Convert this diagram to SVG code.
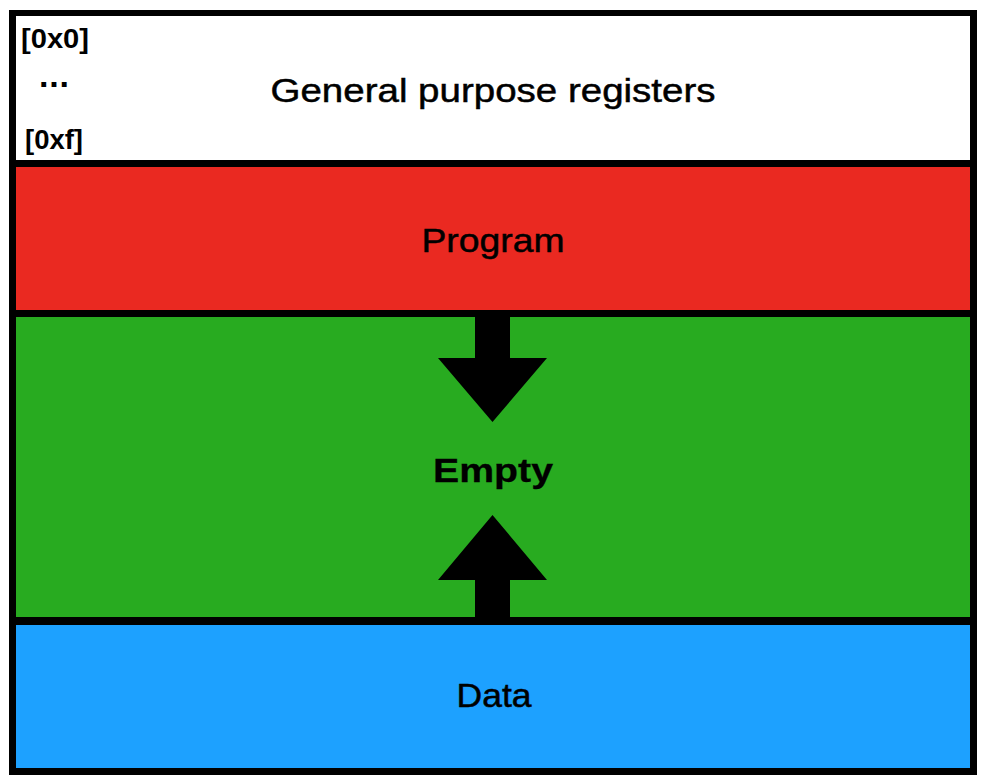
<svg xmlns="http://www.w3.org/2000/svg" width="984" height="782" viewBox="0 0 984 782">
<style>
.lbl{font-family:"Liberation Sans",Arial,Helvetica,sans-serif;font-size:34px;fill:#000;stroke:#000;stroke-width:0.5;text-anchor:middle}
.b{font-weight:bold;stroke-width:0.3}
.sm{font-family:"Liberation Sans",Arial,Helvetica,sans-serif;font-size:28px;font-weight:bold;fill:#000}
</style>
<rect x="0" y="0" width="984" height="782" fill="#fff"/>
<rect x="9" y="10" width="968" height="765" fill="#000"/>
<g id="registers">
<rect x="16" y="16" width="954" height="144" fill="#fff"/>
<text class="sm" x="21" y="48" textLength="68" lengthAdjust="spacingAndGlyphs">[0x0]</text>
<text class="sm" x="39" y="87" style="font-size:34px" textLength="30" lengthAdjust="spacing">...</text>
<text class="sm" x="25" y="149" textLength="58" lengthAdjust="spacingAndGlyphs">[0xf]</text>
<text class="lbl" x="493" y="102" textLength="445" lengthAdjust="spacingAndGlyphs">General purpose registers</text>
</g>
<g id="program">
<rect x="16" y="167" width="954" height="143" fill="#EA2921"/>
<text class="lbl" x="493" y="252" textLength="143" lengthAdjust="spacingAndGlyphs">Program</text>
</g>
<g id="empty">
<rect x="16" y="317" width="954" height="300" fill="#28AB20"/>
<text class="lbl b" x="493" y="482" textLength="120" lengthAdjust="spacingAndGlyphs">Empty</text>
</g>
<g id="data">
<rect x="16" y="625" width="954" height="143" fill="#1DA1FF"/>
<text class="lbl" x="494" y="707" textLength="75" lengthAdjust="spacingAndGlyphs">Data</text>
</g>
<g id="connectors" fill="#000">
<polygon points="475,316 510,316 510,358 547,358 492.5,422 438,358 475,358"/>
<polygon points="475,618 510,618 510,580 547,580 492.5,515 438,580 475,580"/>
</g>
</svg>
